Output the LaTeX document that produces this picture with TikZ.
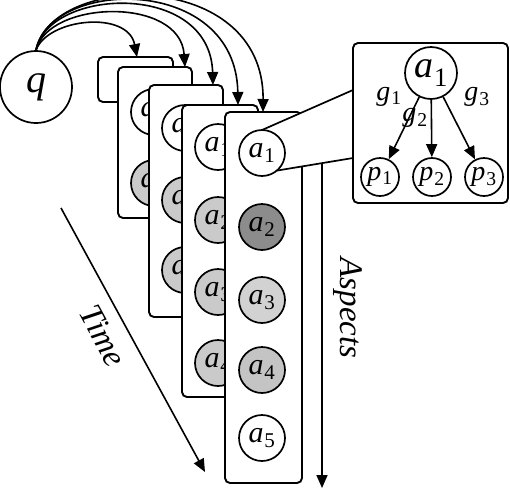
\documentclass[tikz,border=0pt]{standalone}
\usepackage{fontspec}
\setmainfont{Liberation Serif}
\usetikzlibrary{arrows.meta}
\definecolor{gA}{HTML}{D2D2D2}
\definecolor{gB}{HTML}{8C8C8C}
\definecolor{gC}{HTML}{C4C4C4}
\definecolor{gD}{HTML}{CACACA}
\newcommand{\vsub}[2]{\textit{#1}\kern0.03em\textsubscript{#2}}
\begin{document}
\begin{tikzpicture}[x=1pt,y=-1pt,
  panel/.style={draw, fill=white, rounded corners=5pt, line width=1.9pt, inner sep=0pt},
  asp/.style={draw, circle, fill=white, line width=1.7pt, minimum size=46pt, inner sep=0pt, font=\fontsize{30}{32}\selectfont},
  pp/.style={draw, circle, fill=white, line width=1.7pt, minimum size=38pt, inner sep=0pt, font=\fontsize{28}{30}\selectfont},
  lbl/.style={inner sep=0pt, font=\fontsize{28}{30}\selectfont},
  big/.style={inner sep=0pt, font=\fontsize{33}{35}\selectfont\itshape},
  arr/.style={line width=1.6pt, -{Triangle[length=13pt,width=11pt]}},
  ln/.style={line width=1.7pt}
]
\useasboundingbox (0,0) rectangle (510,488);

% query node
\node[draw, circle, line width=1.7pt, minimum size=72pt, inner sep=0pt, font=\fontsize{40}{42}\selectfont] (q) at (36,87) {\textit{q}};

% panel 1
\node[panel, minimum width=75pt, minimum height=45pt] (P1) at (135.5,79.5) {};
% panel 2
\node[panel, minimum width=74pt, minimum height=151pt] (P2) at (155,142.5) {};
\node[asp] (A21) at (154,112) {\vsub{a}{1}};
\node[asp, fill=gD] (A22) at (154,183) {\vsub{a}{2}};
% panel 3
\node[panel, minimum width=74pt, minimum height=232pt] (P3) at (186,201) {};
\node[asp] (A31) at (185,128) {\vsub{a}{1}};
\node[asp, fill=gD] (A32) at (185,200) {\vsub{a}{2}};
\node[asp, fill=gD] (A33) at (185,270) {\vsub{a}{3}};
% panel 4
\node[panel, minimum width=76pt, minimum height=292pt] (P4) at (220,251) {};
\node[asp] (A41) at (218,147) {\vsub{a}{1}};
\node[asp, fill=gD] (A42) at (218,220) {\vsub{a}{2}};
\node[asp, fill=gD] (A43) at (218,292) {\vsub{a}{3}};
\node[asp, fill=gD] (A44) at (218,363) {\vsub{a}{4}};

% aspects axis
\coordinate (asTop) at (322,160);
\coordinate (asBot) at (322,488);
\draw[arr] (asTop) -- (asBot);
\node[big, rotate=-90] (aspects) at (348,308) {Aspects};

% panel 5
\node[panel, minimum width=77pt, minimum height=371pt] (P5) at (263.5,297.5) {};

% zoom panel and funnel
\coordinate (ft) at (262,130);
\coordinate (fb) at (276.8,170.6);
\coordinate (zt) at (353,90);
\coordinate (zb) at (353,158);
\fill[white] (ft) -- (zt) -- (zb) -- (fb) -- (262,153) -- cycle;
\draw[ln] (ft) -- (zt);
\draw[ln] (fb) -- (zb);

\node[asp] (A51) at (262,153) {\vsub{a}{1}};
\node[asp, fill=gB] (A52) at (262,227) {\vsub{a}{2}};
\node[asp, fill=gA] (A53) at (262,300) {\vsub{a}{3}};
\node[asp, fill=gC] (A54) at (262,370) {\vsub{a}{4}};
\node[asp] (A55) at (262,438) {\vsub{a}{5}};

\node[panel, minimum width=155pt, minimum height=160pt] (Z) at (430.5,123) {};
\node[draw, circle, line width=1.7pt, minimum size=52pt, inner sep=0pt, font=\fontsize{38}{40}\selectfont] (za) at (431,73) {\vsub{a}{1}};
\node[pp] (p1) at (380,177) {\vsub{p}{1}};
\node[pp] (p2) at (432,177) {\vsub{p}{2}};
\node[pp] (p3) at (484,177) {\vsub{p}{3}};
\draw[arr] (za) -- (p1);
\draw[arr] (za) -- (p2);
\draw[arr] (za) -- (p3);
\node[lbl] (g1) at (389,97) {\vsub{g}{1}};
\node[lbl] (g2) at (415,118) {\vsub{g}{2}};
\node[lbl] (g3) at (477,97) {\vsub{g}{3}};

% time axis
\coordinate (tA) at (61,208);
\coordinate (tB) at (205,472);
\draw[arr] (tA) -- (tB);
\node[big, rotate=-61.4] (time) at (103,336) {Time};

% query arrows
\coordinate (T1) at (137,57);
\coordinate (T2) at (185,67);
\coordinate (T3) at (213,85);
\coordinate (T4) at (238,105);
\coordinate (T5) at (263,112);
\draw[arr] (q.north) .. controls (48,18) and (128,10) .. (T1);
\draw[arr] (q.north) .. controls (48,0) and (180,-4) .. (T2);
\draw[arr] (q.north) .. controls (48,-12) and (210,-20) .. (T3);
\draw[arr] (q.north) .. controls (50,-22) and (236,-26) .. (T4);
\draw[arr] (q.north) .. controls (52,-28) and (264,-32) .. (T5);
\end{tikzpicture}
\end{document}
